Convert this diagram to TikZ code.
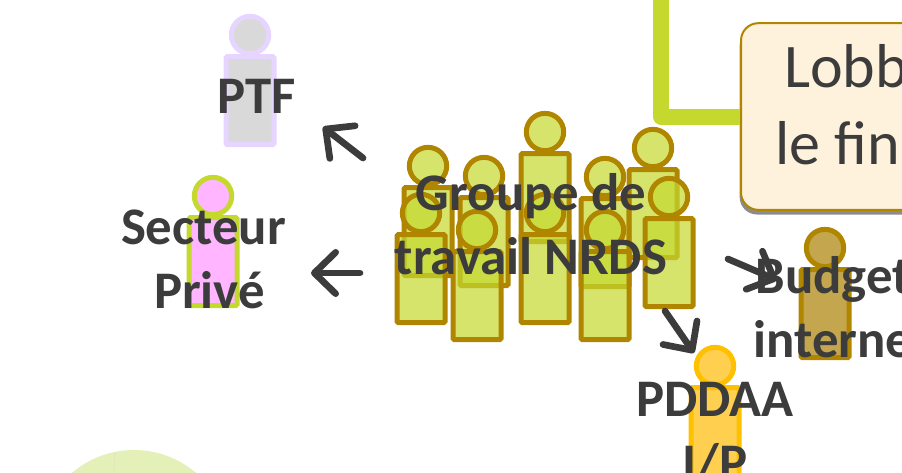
\documentclass[tikz,border=0pt]{standalone}
\usepackage{fontspec}
\setmainfont{Carlito}
\usetikzlibrary{positioning,arrows.meta,shadows}

\definecolor{gold}{HTML}{B08600}
\definecolor{lime}{HTML}{C4D82E}
\definecolor{amber}{HTML}{FFC000}
\definecolor{lavender}{HTML}{E6D5FF}
\definecolor{pinkfill}{HTML}{FFB5FF}
\definecolor{grayfill}{HTML}{D9D9D9}
\definecolor{budgetfill}{HTML}{C3A64D}
\definecolor{amberfill}{HTML}{FFD050}
\definecolor{boxfill}{HTML}{FFF2DC}
\definecolor{discfill}{HTML}{E3F0B8}
\definecolor{discline}{HTML}{E6E6BE}
\definecolor{txt}{HTML}{3C3C3C}

\tikzset{
	headnode/.style 2 args={circle, draw=#1, fill=#2, line width=3.75pt, inner sep=0pt, minimum size=28pt},
	bodynode/.style 2 args={rectangle, draw=#1, fill=#2, line width=3.75pt, inner sep=0pt, rounded corners=1pt,
		minimum width=36pt, minimum height=66pt},
	persontext/.style={font=\bfseries\fontsize{39.6}{48}\selectfont, text=txt, align=center, inner sep=0pt},
	arrowline/.style={-{Straight Barb[length=16pt, width=31pt, round]}, line width=5pt, draw=txt, line cap=round},
}

\begin{document}
\begin{tikzpicture}[x=0.75pt, y=-0.75pt]
	\clip (0,0) rectangle (902,472);
	\useasboundingbox (0,0) rectangle (902,472);

	% bottom circle and green link
	\node[circle, fill=discfill, inner sep=0pt, minimum size=143.4pt] (disc) at (134,545.6) {};
	\coordinate (disctop) at (115,453);
	\coordinate (discend) at (113,480);
	\draw[discline, line width=1pt] (disctop) -- (discend);
	\coordinate (linktop) at (661,-10);

	% lobbying box
	\node[rectangle, draw=gold, fill=boxfill, line width=1.5pt, rounded corners=13pt, inner sep=0pt,
		minimum width=145.5pt, minimum height=140pt,
		drop shadow={shadow xshift=-1pt, shadow yshift=-3.5pt, fill=black!45, opacity=1}] (lobby) at (838,116.5) {};
	\draw[line width=12pt, draw=lime, line join=round] (linktop) |- (lobby.west);
	\node[text=txt, align=center, inner sep=0pt, font=\fontsize{46.5}{57.5}\selectfont] (tlobby) at (838,105) {\hspace*{12pt}Lobb\\le fin};

	% working group
	\foreach \n/\x/\y in {a/428/166, b/484/176, c/545/132, d/605/177, e/653/148, f/421/213, g/477/230, h/545/213, i/605/230, j/669/197} {
		\node[headnode={gold}{lime}, fill opacity=0.7] (h\n) at (\x,\y) {};
		\node[bodynode={gold}{lime}, fill opacity=0.7, below=-1.5pt of h\n] (b\n) {};
	}

	% other actors
	\node[headnode={lavender}{grayfill}] (hptf) at (250,35) {};
	\node[bodynode={lavender}{grayfill}, below=-1.5pt of hptf] (bptf) {};
	\node[headnode={lime}{pinkfill}] (hprive) at (213,196) {};
	\node[bodynode={lime}{pinkfill}, below=-1.5pt of hprive] (bprive) {};
	\node[headnode={gold}{budgetfill}] (hbudget) at (825,248) {};
	\node[bodynode={gold}{budgetfill}, below=-1.5pt of hbudget] (bbudget) {};
	\node[headnode={amber}{amberfill}] (hpddaa) at (715,366) {};
	\node[bodynode={amber}{amberfill}, below=-1.5pt of hpddaa] (bpddaa) {};

	% arrows
	\coordinate (a1) at (363,158);
	\coordinate (a2) at (323,127);
	\coordinate (b1) at (360,273);
	\coordinate (b2) at (311,273);
	\coordinate (c1) at (728,259);
	\coordinate (c2) at (777,280);
	\coordinate (d1) at (665,311);
	\coordinate (d2) at (694,353);
	\draw[arrowline] (a1) -- (a2);
	\draw[arrowline] (b1) -- (b2);
	\draw[arrowline] (c1) -- (c2);
	\draw[arrowline] (d1) -- (d2);

	% labels
	\node[persontext] (tptf) at (256.5,96) {PTF};
	\node[persontext] (tprive) at (209.5,259.5) {Secteur\hspace*{9pt}\\Privé};
	\node[persontext] (tgroupe) at (531,224) {Groupe de\\travail NRDS};
	\node[persontext] (tbudget) at (833,307.5) {Budget\\interne};
	\node[persontext] (tpddaa) at (715,433) {PDDAA\\I/P};
\end{tikzpicture}
\end{document}
